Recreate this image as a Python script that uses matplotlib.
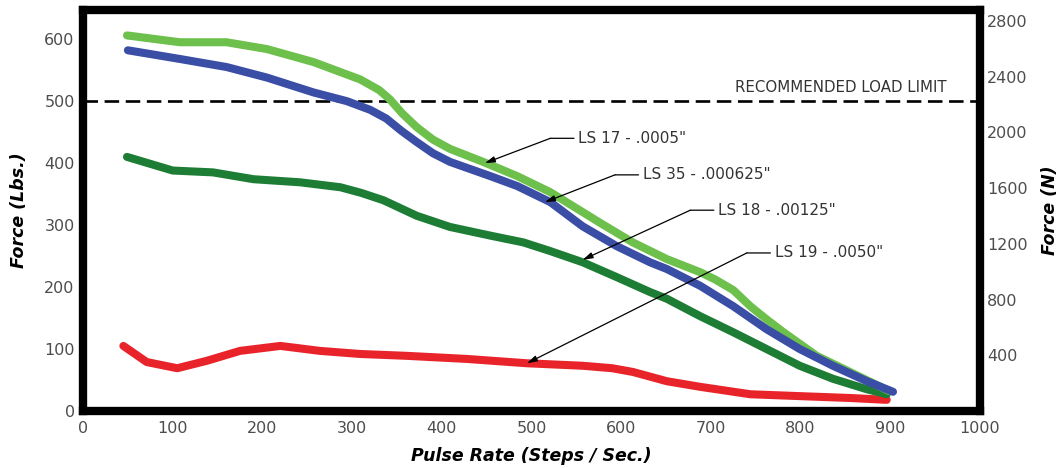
import matplotlib
matplotlib.use("Agg")
import matplotlib.pyplot as plt

# ---- data ----
ls17_x = [49, 108, 160, 205, 257, 309, 330, 342, 356, 372, 390, 409, 446, 484, 521, 557, 576, 613, 651, 688, 705, 725, 744, 762, 781, 818, 855, 899]
ls17_y = [606, 595, 595, 584, 563, 535, 518, 503, 480, 458, 438, 423, 402, 379, 353, 321, 304, 272, 245, 224, 212, 195, 169, 148, 127, 89, 63, 32]

ls35_x = [50, 108, 160, 205, 257, 294, 320, 338, 355, 372, 390, 409, 454, 484, 521, 557, 595, 632, 651, 688, 725, 762, 799, 836, 874, 903]
ls35_y = [582, 568, 555, 538, 514, 500, 486, 472, 452, 434, 416, 402, 379, 363, 337, 298, 266, 240, 229, 202, 169, 132, 100, 73, 48, 31]

ls18_x = [49, 100, 145, 190, 242, 287, 310, 335, 372, 409, 454, 491, 521, 557, 595, 632, 651, 688, 725, 762, 799, 836, 874, 896]
ls18_y = [410, 388, 385, 374, 369, 361, 352, 340, 315, 297, 283, 272, 258, 240, 216, 192, 181, 153, 127, 100, 73, 52, 35, 27]

ls19_x = [45, 71, 105, 138, 175, 220, 264, 309, 361, 428, 495, 557, 590, 613, 651, 688, 744, 799, 855, 896]
ls19_y = [105, 79, 69, 81, 97, 105, 97, 92, 89, 84, 77, 73, 69, 63, 48, 39, 27, 24, 21, 18]

series_labels = ['LS 17 - .0005"', 'LS 35 - .000625"', 'LS 18 - .00125"', 'LS 19 - .0050"']
# arrow tip on curve and leader corner (data coords)
label_tips = [(448, 400), (515, 337), (557, 244), (495, 77)]
label_corners = [(521, 440), (593, 381), (677, 324), (740, 255)]

load_limit = 500
load_limit_label = "RECOMMENDED LOAD LIMIT"

x_ticks = list(range(0, 1001, 100))
y_ticks_lbs = list(range(0, 601, 100))
y_ticks_n = [400, 800, 1200, 1600, 2000, 2400, 2800]
LBS_TO_N = 4.448

# ---- figure ----
fig = plt.figure(figsize=(10.59, 4.68), dpi=100)
ax = fig.add_axes([0.0784, 0.1218, 0.8470, 0.8568])

ymax = 647
ax.set_xlim(0, 1000)
ax.set_ylim(0, ymax)

lw = 5.8
kw = dict(lw=lw, solid_capstyle="round", solid_joinstyle="round")
ax.plot(ls19_x, ls19_y, color="#e8242a", zorder=3, **kw)
ax.plot(ls18_x, ls18_y, color="#1e7d34", zorder=3, **kw)
ax.plot(ls17_x, ls17_y, color="#6dc04b", zorder=3, **kw)
ax.plot(ls35_x, ls35_y, color="#3a4ea6", zorder=4, **kw)

ax.axhline(load_limit, color="black", lw=1.9, dashes=(5.5, 2.5), zorder=2)
ax.text(963, load_limit + 10, load_limit_label, ha="right", va="bottom",
        fontsize=10.8, color="#333333")

for lab, tip, corner in zip(series_labels, label_tips, label_corners):
    ax.annotate("", xy=tip, xytext=corner,
                arrowprops=dict(arrowstyle="-|>,head_length=0.6,head_width=0.18",
                                color="black", lw=0.9, shrinkA=0, shrinkB=0), zorder=5)
    ax.annotate(lab, xy=corner, xytext=(20, 0), textcoords="offset points",
                va="center", ha="left", fontsize=11, color="#333333",
                arrowprops=dict(arrowstyle="-", color="black", lw=0.9, shrinkA=1, shrinkB=0),
                zorder=5)

for s in ax.spines.values():
    s.set_linewidth(6)
    s.set_color("black")

ax.set_xticks(x_ticks)
ax.set_yticks(y_ticks_lbs)
ax.tick_params(axis="both", length=0, labelsize=11.5, labelcolor="#4d4d4d")
ax.tick_params(axis="x", pad=7)
ax.tick_params(axis="y", pad=6)

ax.set_xlabel("Pulse Rate (Steps / Sec.)", fontsize=12.5, fontweight="bold", fontstyle="italic", labelpad=8)
ax.set_ylabel("Force (Lbs.)", fontsize=12.5, fontweight="bold", fontstyle="italic", labelpad=12)

ax2 = ax.twinx()
ax2.set_ylim(0, ymax * LBS_TO_N)
ax2.set_yticks(y_ticks_n)
ax2.tick_params(axis="y", length=0, labelsize=11.5, labelcolor="#4d4d4d", pad=5)
for s in ax2.spines.values():
    s.set_visible(False)
ax2.set_ylabel("Force (N)", fontsize=12.5, fontweight="bold", fontstyle="italic", labelpad=10)

fig.savefig("out.png", dpi=100)
